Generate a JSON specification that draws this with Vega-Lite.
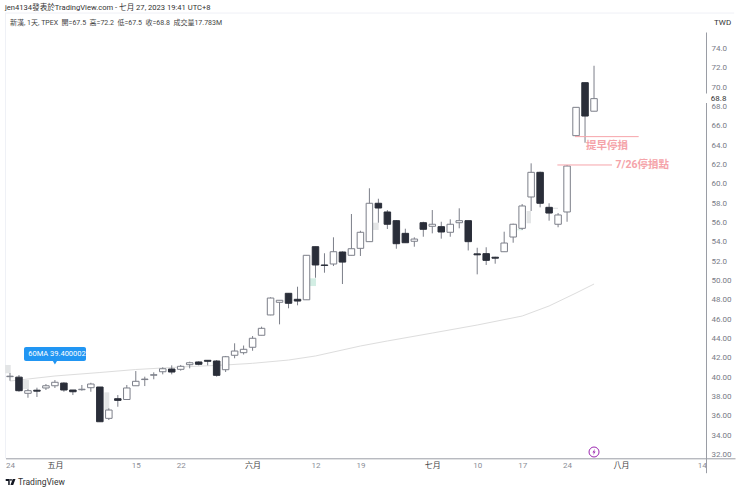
{
  "$schema": "https://vega.github.io/schema/vega-lite/v6.json",
  "width": 729.5,
  "height": 440.7,
  "autosize": "none",
  "padding": {"left": 5.5, "top": 32, "right": 5, "bottom": 19.3},
  "background": "white",
  "view": {"stroke": null},
  "config": {"font": "Roboto, Noto Sans CJK TC", "axis": {"labelOverlap": false}},
  "datasets": {
    "candles": [
      {"i":0,"open":40.05,"close":40.1,"high":40.43,"low":39.63},
      {"i":1,"open":40.0,"close":38.6,"high":40.22,"low":38.49},
      {"i":2,"open":38.33,"close":38.6,"high":38.77,"low":37.87},
      {"i":3,"open":38.65,"close":38.55,"high":38.91,"low":37.95},
      {"i":4,"open":38.88,"close":39.11,"high":39.29,"low":38.67},
      {"i":5,"open":39.11,"close":39.47,"high":39.7,"low":38.88},
      {"i":6,"open":39.39,"close":38.67,"high":39.47,"low":38.49},
      {"i":7,"open":38.67,"close":38.49,"high":38.67,"low":38.15},
      {"i":8,"open":38.7,"close":38.75,"high":39.19,"low":38.6},
      {"i":9,"open":38.91,"close":39.29,"high":39.42,"low":38.49},
      {"i":10,"open":38.98,"close":35.39,"high":38.98,"low":35.39},
      {"i":11,"open":35.74,"close":36.6,"high":36.78,"low":35.57},
      {"i":12,"open":37.77,"close":37.6,"high":38.15,"low":36.94},
      {"i":13,"open":37.69,"close":38.88,"high":39.19,"low":37.64},
      {"i":14,"open":39.11,"close":39.57,"high":40.63,"low":39.11},
      {"i":15,"open":39.75,"close":39.8,"high":40.05,"low":39.08},
      {"i":16,"open":40.2,"close":40.25,"high":40.5,"low":39.78},
      {"i":17,"open":40.56,"close":40.87,"high":41.02,"low":40.29},
      {"i":18,"open":40.84,"close":40.53,"high":41.22,"low":40.29},
      {"i":19,"open":40.81,"close":41.12,"high":41.26,"low":40.67},
      {"i":20,"open":41.29,"close":41.49,"high":41.6,"low":40.91},
      {"i":21,"open":41.57,"close":41.33,"high":41.64,"low":41.22},
      {"i":22,"open":41.74,"close":41.64,"high":41.77,"low":41.22},
      {"i":23,"open":41.67,"close":40.19,"high":41.77,"low":40.05},
      {"i":24,"open":40.77,"close":42.11,"high":42.19,"low":40.53},
      {"i":25,"open":42.26,"close":42.7,"high":43.5,"low":41.95},
      {"i":26,"open":42.53,"close":42.88,"high":43.27,"low":42.34},
      {"i":27,"open":43.09,"close":44.02,"high":44.25,"low":42.73},
      {"i":28,"open":44.33,"close":45.05,"high":45.22,"low":44.33},
      {"i":29,"open":46.43,"close":48.18,"high":48.26,"low":46.4},
      {"i":30,"open":47.74,"close":47.95,"high":47.95,"low":45.46},
      {"i":31,"open":48.67,"close":47.64,"high":48.67,"low":47.12},
      {"i":32,"open":48.05,"close":47.87,"high":49.35,"low":47.43},
      {"i":33,"open":48.0,"close":52.6,"high":52.6,"low":48.0},
      {"i":34,"open":53.49,"close":51.6,"high":53.49,"low":50.28},
      {"i":35,"open":51.6,"close":51.55,"high":52.81,"low":50.8},
      {"i":36,"open":51.7,"close":52.97,"high":54.46,"low":51.49},
      {"i":37,"open":52.94,"close":51.9,"high":53.01,"low":49.63},
      {"i":38,"open":52.6,"close":53.28,"high":56.87,"low":52.6},
      {"i":39,"open":53.32,"close":54.98,"high":55.14,"low":52.53},
      {"i":40,"open":54.01,"close":57.98,"high":59.53,"low":54.01},
      {"i":41,"open":57.98,"close":57.49,"high":58.45,"low":55.97},
      {"i":42,"open":57.08,"close":55.81,"high":57.28,"low":55.32},
      {"i":43,"open":56.18,"close":53.8,"high":56.25,"low":53.28},
      {"i":44,"open":54.87,"close":53.9,"high":55.35,"low":53.9},
      {"i":45,"open":54.05,"close":54.28,"high":54.46,"low":53.49},
      {"i":46,"open":55.97,"close":55.29,"high":56.07,"low":54.52},
      {"i":47,"open":55.6,"close":55.81,"high":57.28,"low":54.87},
      {"i":48,"open":55.56,"close":55.01,"high":56.07,"low":54.32},
      {"i":49,"open":54.98,"close":55.81,"high":56.32,"low":54.52},
      {"i":50,"open":55.97,"close":56.18,"high":57.46,"low":55.39},
      {"i":51,"open":56.18,"close":54.01,"high":56.18,"low":53.1},
      {"i":52,"open":52.75,"close":52.65,"high":53.38,"low":50.63},
      {"i":53,"open":52.77,"close":52.08,"high":53.43,"low":51.6},
      {"i":54,"open":52.4,"close":52.3,"high":52.45,"low":51.73},
      {"i":55,"open":52.97,"close":53.87,"high":55.04,"low":52.97},
      {"i":56,"open":54.49,"close":55.81,"high":55.87,"low":53.9},
      {"i":57,"open":55.39,"close":57.7,"high":57.9,"low":55.22},
      {"i":58,"open":58.63,"close":61.18,"high":62.11,"low":57.18},
      {"i":59,"open":61.18,"close":57.98,"high":61.25,"low":57.56},
      {"i":60,"open":57.56,"close":56.97,"high":57.98,"low":56.18},
      {"i":61,"open":55.81,"close":56.77,"high":56.97,"low":55.5},
      {"i":62,"open":57.08,"close":61.83,"high":61.94,"low":56.07},
      {"i":63,"open":64.97,"close":67.9,"high":67.9,"low":64.97},
      {"i":64,"open":70.45,"close":67.0,"high":70.45,"low":64.24},
      {"i":65,"open":67.5,"close":68.8,"high":72.2,"low":67.5}
    ],
    "ghosts": [
      {"i":-0.55,"i2":0.08,"p":41.26,"p2":40.4,"kind":"grey"},
      {"i":1.41,"i2":2.11,"p":39.7,"p2":38.77,"kind":"grey"},
      {"i":10.5,"i2":11.05,"p":38.43,"p2":36.6,"kind":"grey"},
      {"i":33.39,"i2":34.06,"p":50.22,"p2":49.42,"kind":"green"},
      {"i":40.37,"i2":41.03,"p":55.97,"p2":55.22,"kind":"grey"},
      {"i":57.5,"i2":57.98,"p":57.18,"p2":55.91,"kind":"grey"},
      {"i":56.46,"i2":57.06,"p":55.29,"p2":55.18,"kind":"green"},
      {"i":60.43,"i2":60.99,"p":57.52,"p2":57.39,"kind":"grey"}
    ],
    "ma": [
      {"i":0,"ma":39.6},{"i":5,"ma":40.12},{"i":10,"ma":40.48},{"i":14,"ma":40.79},
      {"i":19,"ma":41.05},{"i":24,"ma":41.26},{"i":27,"ma":41.43},{"i":31,"ma":41.77},
      {"i":34,"ma":42.19},{"i":39,"ma":43.22},{"i":42,"ma":43.74},{"i":47,"ma":44.56},
      {"i":52,"ma":45.39},{"i":57,"ma":46.32},{"i":60,"ma":47.36},{"i":63,"ma":48.7},
      {"i":65,"ma":49.63}
    ]
  },
  "encoding": {
    "x": {
      "field": "i",
      "type": "quantitative",
      "scale": {"domain": [-0.5, 80.69], "nice": false, "zero": false, "padding": 0},
      "axis": {
        "title": null,
        "orient": "bottom",
        "offset": -14.4,
        "grid": false,
        "ticks": false,
        "values": [0, 5, 14, 19, 27, 34, 39, 47, 52, 57, 62, 68, 77],
        "labelExpr": "{0:'24',5:'五月',14:'15',19:'22',27:'六月',34:'12',39:'19',47:'七月',52:'10',57:'17',62:'24',68:'八月',77:'14'}[datum.value]",
        "labelFontSize": 8,
        "labelPadding": 3,
        "labelColor": {"expr": "indexof([5,27,47,68], datum.value) >= 0 ? '#444' : '#8a8d96'"},
        "labelOverlap": false,
        "labelBound": false,
        "labelFlush": false,
        "domainColor": "#9a9da5",
        "domainWidth": 1
      }
    }
  },
  "layer": [
    {
      "data": {"values": [
        {"i":-0.56,"i2":80.6,"p":77.65,"p2":77.65},
        {"i":-0.5,"i2":-0.5,"p":77.65,"p2":31.6}
      ]},
      "mark": {"type": "rule", "color": "#eff1f6", "strokeWidth": 1},
      "encoding": {
        "x2": {"field": "i2"},
        "y": {
          "field": "p",
          "type": "quantitative",
          "scale": {"domain": [30.12, 75.69], "nice": false, "zero": false},
          "axis": {
            "title": null,
            "orient": "right",
            "offset": -29,
            "grid": false,
            "ticks": false,
            "tickCount": 30,
            "values": [32,34,36,38,40,42,44,46,48,50,52,54,56,58,60,62,64,66,68,70,72,74],
            "labelExpr": "format(datum.value, datum.value >= 52 ? '.1f' : '.2f')",
            "labelFontSize": 8,
            "labelPadding": 5,
            "labelColor": "#787b86",
            "labelOverlap": false,
            "labelBound": false,
            "domainColor": "#9a9da5",
            "domainWidth": 1
          }
        },
        "y2": {"field": "p2"}
      }
    },
    {
      "data": {"name": "ghosts"},
      "mark": {"type": "rect"},
      "encoding": {
        "x2": {"field": "i2"},
        "y": {"field": "p", "type": "quantitative", "scale": {"domain": [30.12, 75.69], "nice": false, "zero": false}},
        "y2": {"field": "p2"},
        "color": {
          "field": "kind",
          "type": "nominal",
          "legend": null,
          "scale": {"domain": ["grey", "green"], "range": ["#e3e5e6", "#d3eee4"]}
        }
      }
    },
    {
      "data": {"name": "ma"},
      "mark": {"type": "line", "color": "#dddddd", "strokeWidth": 1},
      "encoding": {
        "y": {"field": "ma", "type": "quantitative", "scale": {"domain": [30.12, 75.69], "nice": false, "zero": false}}
      }
    },
    {
      "data": {"name": "candles"},
      "mark": {"type": "rule", "color": "#7c7f89", "strokeWidth": 1},
      "encoding": {
        "y": {"field": "low", "type": "quantitative", "scale": {"domain": [30.12, 75.69], "nice": false, "zero": false}},
        "y2": {"field": "high"}
      }
    },
    {
      "data": {"name": "candles"},
      "mark": {"type": "bar", "width": 6.5, "strokeWidth": 1},
      "encoding": {
        "y": {"field": "open", "type": "quantitative", "scale": {"domain": [30.12, 75.69], "nice": false, "zero": false}},
        "y2": {"field": "close"},
        "fill": {"condition": {"test": "datum.close >= datum.open", "value": "#ffffff"}, "value": "#2a2e39"},
        "stroke": {"condition": {"test": "datum.close >= datum.open", "value": "#7c7f89"}, "value": "#2a2e39"}
      }
    },
    {
      "data": {"values": [
        {"i":62.88,"i2":69.97,"p":64.87,"p2":64.87},
        {"i":60.92,"i2":67.0,"p":61.94,"p2":61.94}
      ]},
      "mark": {"type": "rule", "color": "#f6a4aa", "strokeWidth": 1},
      "encoding": {
        "x2": {"field": "i2"},
        "y": {"field": "p", "type": "quantitative", "scale": {"domain": [30.12, 75.69], "nice": false, "zero": false}},
        "y2": {"field": "p2"}
      }
    },
    {
      "data": {"values": [{"i":1.56,"i2":8.46,"p":43.12,"p2":41.67}]},
      "mark": {"type": "rect", "color": "#2196f3", "cornerRadius": 2},
      "encoding": {
        "x2": {"field": "i2"},
        "y": {"field": "p", "type": "quantitative", "scale": {"domain": [30.12, 75.69], "nice": false, "zero": false}},
        "y2": {"field": "p2"}
      }
    },
    {
      "data": {"values": [{"i":5,"p":41.55}]},
      "mark": {"type": "point", "shape": "triangle-down", "filled": true, "size": 32, "color": "#2196f3", "opacity": 1},
      "encoding": {
        "y": {"field": "p", "type": "quantitative", "scale": {"domain": [30.12, 75.69], "nice": false, "zero": false}}
      }
    },
    {
      "data": {"values": [{"i":65,"p":32.26}]},
      "mark": {"type": "point", "shape": "circle", "filled": true, "fill": "white", "stroke": "#9c27b0", "strokeWidth": 1, "size": 100, "opacity": 1},
      "encoding": {
        "y": {"field": "p", "type": "quantitative", "scale": {"domain": [30.12, 75.69], "nice": false, "zero": false}}
      }
    },
    {
      "data": {"values": [{"i":65,"p":32.26}]},
      "mark": {"type": "point", "shape": "M0.2,-0.7L-0.35,0.1L-0.02,0.1L-0.2,0.7L0.35,-0.1L0.02,-0.1Z", "filled": true, "color": "#9c27b0", "size": 80, "opacity": 1},
      "encoding": {
        "y": {"field": "p", "type": "quantitative", "scale": {"domain": [30.12, 75.69], "nice": false, "zero": false}}
      }
    },
    {
      "data": {"values": [{"i":0.08,"p":29.16}]},
      "mark": {"type": "point", "shape": "M-1,-0.6H-0.2V0.6H-0.5V-0.2H-1ZM0.4,-0.6H0.95L0.5,0.6H-0.05ZM-0.1,-0.6H0.2V-0.25H-0.1Z", "filled": true, "color": "#131722", "size": 100, "opacity": 1},
      "encoding": {
        "y": {"field": "p", "type": "quantitative", "scale": {"domain": [30.12, 75.69], "nice": false, "zero": false}}
      }
    },
    {
      "data": {"values": [
        {"i":-0.56,"p":78.17,"t":"jen4134發表於TradingView.com - 七月 27, 2023 19:41 UTC+8","c":"#333333","s":7.6},
        {"i":0,"p":76.62,"t":"新漢, 1天, TPEX\u00a0\u00a0開=67.5\u00a0\u00a0高=72.2\u00a0\u00a0低=67.5\u00a0\u00a0收=68.8\u00a0\u00a0成交量17.783M","c":"#444444","s":7},
        {"i":78.35,"p":76.62,"t":"TWD","c":"#333333","s":8},
        {"i":78.0,"p":68.76,"t":"68.8","c":"#333333","s":8},
        {"i":0.89,"p":29.16,"t":"TradingView","c":"#333333","s":8.5},
        {"i":2.03,"p":42.4,"t":"60MA 39.400002","c":"#ffffff","s":7.5}
      ]},
      "mark": {"type": "text", "align": "left", "baseline": "middle"},
      "encoding": {
        "y": {"field": "p", "type": "quantitative", "scale": {"domain": [30.12, 75.69], "nice": false, "zero": false}},
        "text": {"field": "t"},
        "color": {"field": "c", "type": "nominal", "scale": null},
        "size": {"field": "s", "type": "quantitative", "scale": null}
      }
    },
    {
      "data": {"values": [
        {"i":64.1,"p":63.9,"t":"提早停損"},
        {"i":67.4,"p":61.94,"t":"7/26停損點"}
      ]},
      "mark": {"type": "text", "align": "left", "baseline": "middle", "fontSize": 10.5, "fontWeight": "bold", "color": "#f5a3a9"},
      "encoding": {
        "y": {"field": "p", "type": "quantitative", "scale": {"domain": [30.12, 75.69], "nice": false, "zero": false}},
        "text": {"field": "t"}
      }
    },
    {
      "data": {"values": [{"i":77.3,"i2":77.63,"p":69.33,"p2":68.35}]},
      "mark": {"type": "rect", "color": "#ffffff"},
      "encoding": {
        "x2": {"field": "i2"},
        "y": {"field": "p", "type": "quantitative", "scale": {"domain": [30.12, 75.69], "nice": false, "zero": false}},
        "y2": {"field": "p2"}
      }
    }
  ]
}
